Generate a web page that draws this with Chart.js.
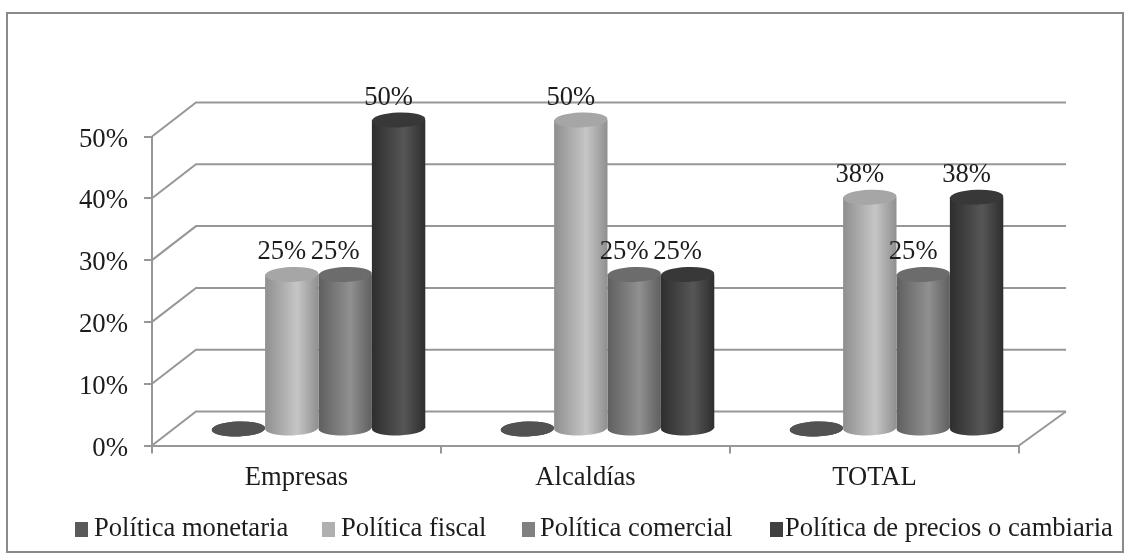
<!DOCTYPE html>
<html>
<head>
<meta charset="utf-8">
<style>html,body{margin:0;padding:0;background:#fff}canvas{display:block}</style>
<script src="https://cdn.jsdelivr.net/npm/chart.js@4/dist/chart.umd.min.js"></script>
</head>
<body>
<canvas id="c" width="1132" height="559"></canvas>
<script>
const categories = ['Empresas', 'Alcaldías', 'TOTAL'];
const seriesNames = ['Política monetaria', 'Política fiscal', 'Política comercial', 'Política de precios o cambiaria'];
const monetaria = [0, 0, 0];
const fiscal = [25, 50, 37.5];
const comercial = [25, 25, 25];
const precios = [50, 25, 37.5];
const yTicks = [0, 10, 20, 30, 40, 50];

const FONT = '26.6px "Liberation Serif"';
const TEXT = '#1c1c1c';
const AXIS = '#979797';
const DX = 22, DY = -16.5, BACKX = 45, BACKY = 34, RY = 7.5, TILT = -0.035;
const BAR_SHARE = 0.739;
// edge, mid, cap colours for each series
const shades = [
  ['#4f4f4f', '#4f4f4f', '#525252'],
  ['#8f8f8f', '#c6c6c6', '#a6a6a6'],
  ['#5f5f5f', '#909090', '#6c6c6c'],
  ['#2e2e2e', '#565656', '#383838']
];
const legendX = [[75, 94], [322, 341], [522, 540], [770, 785]];

function grad(c, x0, w, s) {
  const g = c.createLinearGradient(x0, 0, x0 + w, 0);
  g.addColorStop(0, s[0]);
  g.addColorStop(0.6, s[1]);
  g.addColorStop(1, s[0]);
  return g;
}
function barFill(ctx) {
  const s = shades[ctx.datasetIndex];
  const xs = ctx.chart.scales.x;
  if (ctx.dataIndex === undefined || !xs) return s[1];
  const w = (xs.width / categories.length) * BAR_SHARE / 4;
  const left = xs.getPixelForValue(ctx.dataIndex) + (ctx.datasetIndex - 2) * w;
  if (!isFinite(left) || !isFinite(w)) return s[1];
  return grad(ctx.chart.ctx, left, w, s);
}

const stage = {
  id: 'stage',
  beforeDraw(chart) {
    const c = chart.ctx;
    c.save();
    c.fillStyle = '#fff';
    c.fillRect(0, 0, chart.width, chart.height);
    c.strokeStyle = '#8a8a8a';
    c.lineWidth = 2;
    c.strokeRect(7, 13, 1116, 539);
    c.restore();
    // the y tick labels sit a little under their tick marks in the reference
    const items = chart.scales.y.getLabelItems();
    if (!items.nudged) {
      items.forEach(it => { it.options.translation[1] += 3; });
      items.nudged = true;
    }
  },
  beforeDatasetsDraw(chart) {
    const c = chart.ctx, y = chart.scales.y, a = chart.chartArea;
    c.save();
    c.strokeStyle = AXIS;
    c.lineWidth = 2;
    yTicks.forEach(t => {
      const py = y.getPixelForValue(t);
      c.beginPath();
      c.moveTo(a.left, py);
      c.lineTo(a.left + BACKX - 1, py - BACKY);
      c.lineTo(a.right + BACKX + 2, py - BACKY);
      c.stroke();
    });
    const p0 = y.getPixelForValue(0);
    c.beginPath();
    c.moveTo(a.right, p0);
    c.lineTo(a.right + BACKX + 2, p0 - BACKY);
    c.stroke();
    c.restore();
    c.save();
    c.translate(DX, DY);
  },
  afterDatasetsDraw(chart) {
    const c = chart.ctx;
    chart.data.datasets.forEach((ds, i) => {
      chart.getDatasetMeta(i).data.forEach(b => {
        const rx = b.width / 2;
        c.fillStyle = grad(c, b.x - rx, b.width, shades[i]);
        c.beginPath();
        c.ellipse(b.x, b.base, rx, RY, TILT, 0, Math.PI * 2);
        c.fill();
        c.fillStyle = shades[i][2];
        c.beginPath();
        c.ellipse(b.x, b.y, rx, RY, TILT, 0, Math.PI * 2);
        c.fill();
      });
    });
    c.fillStyle = TEXT;
    c.font = FONT;
    c.textAlign = 'center';
    c.textBaseline = 'middle';
    chart.data.datasets.forEach((ds, i) => {
      chart.getDatasetMeta(i).data.forEach((b, j) => {
        if (ds.data[j] > 0) c.fillText(Math.round(ds.data[j]) + '%', b.x - 10, b.y - 22);
      });
    });
    c.restore();
  },
  afterDraw(chart) {
    const c = chart.ctx;
    c.save();
    c.font = FONT;
    c.textBaseline = 'middle';
    c.textAlign = 'left';
    seriesNames.forEach((n, i) => {
      c.fillStyle = ['#5a5a5a', '#b0b0b0', '#808080', '#404040'][i];
      c.fillRect(legendX[i][0], 522, 13, 15);
      c.fillStyle = TEXT;
      c.fillText(n, legendX[i][1], 529);
    });
    c.restore();
  }
};

const seriesValues = [monetaria, fiscal, comercial, precios];
new Chart(document.getElementById('c'), {
  type: 'bar',
  data: {
    labels: categories,
    datasets: seriesNames.map((n, i) => ({
      label: n,
      data: seriesValues[i],
      backgroundColor: barFill,
      borderWidth: 0,
      clip: false,
      barPercentage: 1,
      categoryPercentage: BAR_SHARE
    }))
  },
  plugins: [stage],
  options: {
    responsive: false,
    animation: false,
    layout: { padding: { left: 0, right: 113, top: 136.5, bottom: 0 } },
    plugins: { legend: { display: false }, tooltip: { enabled: false }, title: { display: false } },
    scales: {
      x: {
        afterFit(s) { s.height = 113.5; },
        grid: { display: true, drawOnChartArea: false, drawTicks: true, tickLength: 8, color: AXIS, lineWidth: 2, offset: true },
        border: { color: AXIS, width: 2 },
        ticks: { font: { family: 'Liberation Serif', size: 26.6 }, color: TEXT, padding: 9, maxRotation: 0 }
      },
      y: {
        min: 0, max: 50,
        afterFit(s) { s.width = 152; },
        grid: { display: true, drawOnChartArea: false, drawTicks: true, tickLength: 8, color: AXIS, lineWidth: 2 },
        border: { color: AXIS, width: 2 },
        ticks: { stepSize: 10, callback: v => v + '%', font: { family: 'Liberation Serif', size: 26.8 }, color: TEXT, padding: 16 }
      }
    }
  }
});
</script>
</body>
</html>
